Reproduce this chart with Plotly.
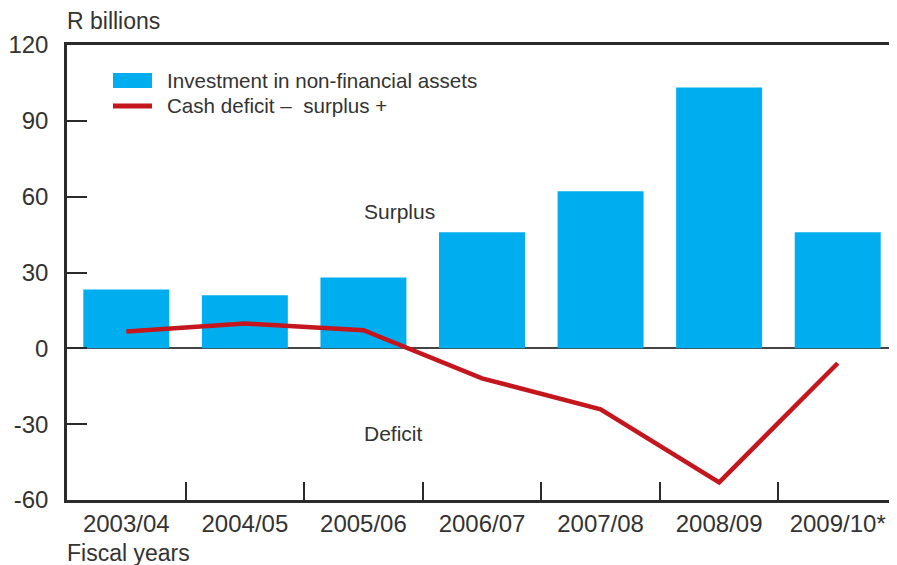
import plotly.graph_objects as go

# Fiscal years and values (R billions)
YEARS = ["2003/04", "2004/05", "2005/06", "2006/07", "2007/08", "2008/09", "2009/10*"]
INVESTMENT = [23.3, 21.0, 28.0, 45.9, 62.1, 103.2, 45.9]
CASH_BALANCE = [6.7, 9.8, 7.2, -11.9, -24.1, -53.0, -5.9]
Y_TICKS = [-60, -30, 0, 30, 60, 90, 120]
Y_TICK_LABELS = ["-60", "-30", "0", "30", "60", "90", "120"]

BLUE = "#00aeef"
RED = "#c4161c"
INK = "#2b2b2b"
TXT = "#333333"
FONT = "Liberation Sans"

fig = go.Figure()
fig.add_trace(go.Bar(x=YEARS, y=INVESTMENT, marker=dict(color=BLUE, line=dict(width=0)),
                     name="Investment in non-financial assets", showlegend=False))
fig.add_trace(go.Scatter(x=YEARS, y=CASH_BALANCE, mode="lines", line=dict(color=RED, width=4.5),
                         name="Cash deficit –  surplus +", showlegend=False))

# hand-made legend, to get the wide swatches of the original
fig.add_shape(type="rect", xref="paper", yref="paper", x0=0.0554, x1=0.1024, y0=0.9055, y1=0.9385,
              fillcolor=BLUE, line=dict(width=0))
fig.add_shape(type="line", xref="paper", yref="paper", x0=0.0554, x1=0.1024, y0=0.866, y1=0.866,
              line=dict(color=RED, width=5))

notes = [
    ("Investment in non-financial assets", 0.118, 0.923, "left", 20.6),
    ("Cash deficit –  surplus +", 0.118, 0.866, "left", 20.6),
    ("Surplus", 0.401, 0.635, "center", 21),
    ("Deficit", 0.393, 0.147, "center", 21),
]
for text, x, y, anchor, size in notes:
    fig.add_annotation(text=text, x=x, y=y, xref="paper", yref="paper", xanchor=anchor,
                       yanchor="middle", showarrow=False, font=dict(size=size, color=TXT))

fig.add_annotation(text="R billions", x=-0.0024, y=1.053, xref="paper", yref="paper",
                   xanchor="left", yanchor="middle", showarrow=False, font=dict(size=23, color=TXT))
fig.add_annotation(text="Fiscal years", x=-0.0024, y=-0.1165, xref="paper", yref="paper",
                   xanchor="left", yanchor="middle", showarrow=False, font=dict(size=23, color=TXT))

# the page puts the figure 8px in from the top-left corner, so the size is trimmed to match
fig.update_layout(
    width=889, height=557,
    margin=dict(l=59, r=0, t=37, b=65),
    paper_bgcolor="white", plot_bgcolor="white",
    bargap=0.275,
    font=dict(family=FONT, color=TXT, size=24),
)
fig.update_xaxes(
    type="category", showgrid=False, showline=True, linecolor=INK, linewidth=2.5, mirror=True,
    ticks="inside", tickson="boundaries", ticklen=18, tickwidth=2, tickcolor=INK,
    tickfont=dict(size=24), ticklabelstandoff=0, automargin=False,
)
fig.update_yaxes(
    range=[-60, 120], tickvals=Y_TICKS, ticktext=Y_TICK_LABELS,
    showgrid=False, showline=True, linecolor=INK, linewidth=2.5,
    ticks="inside", ticklen=20, tickwidth=2, tickcolor=INK, tickfont=dict(size=24),
    ticklabelstandoff=11, automargin=False,
    zeroline=True, zerolinecolor="#444444", zerolinewidth=1.5,
)

fig.write_html("out.html")
